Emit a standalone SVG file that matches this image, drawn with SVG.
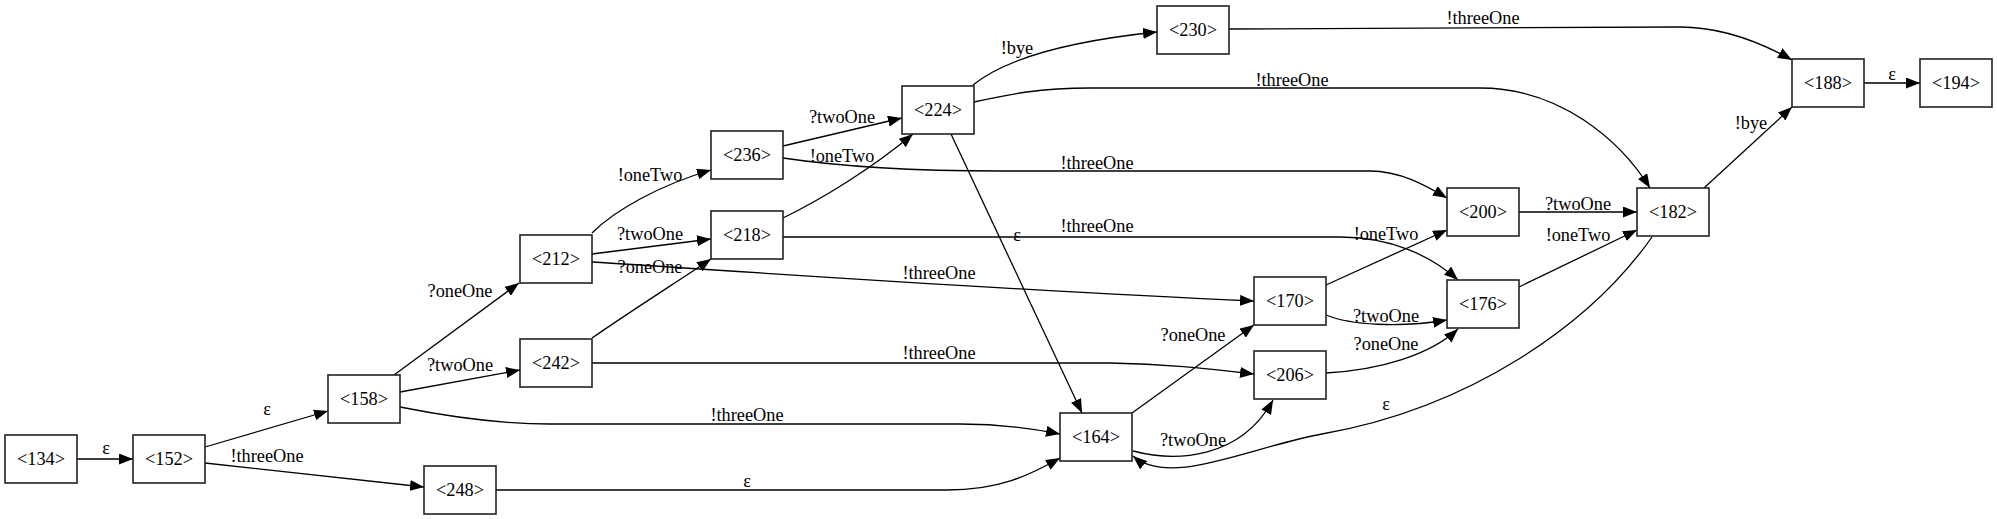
<svg xmlns="http://www.w3.org/2000/svg" width="1997" height="519" viewBox="0 0 1997 519">
<style>
.n rect{fill:#fff;stroke:#222;stroke-width:1.6}
.n text,.l{font-family:"Liberation Serif","Times New Roman",serif;font-size:18.3px;fill:#000;text-anchor:middle}
.e path{fill:none;stroke:#000;stroke-width:1.3;marker-end:url(#ah)}
</style>
<defs>
<marker id="ah" markerUnits="userSpaceOnUse" markerWidth="14" markerHeight="11" refX="14" refY="5.5" orient="auto">
<path d="M0,0 L14,5.5 L0,11 z" fill="#000"/>
</marker>
</defs>
<rect width="1997" height="519" fill="#fff"/>
<g id="connectors" class="e">
<path d="M77,459 L133,459"/>
<path d="M205,447 L328,411"/>
<path d="M205,463 L424,487"/>
<path d="M394,375 L519,283"/>
<path d="M400,392 L520,370"/>
<path d="M400,407 C450,417 500,424 550,424 L960,424 C1000,424 1030,428 1060,434"/>
<path d="M496,490 L947,490 C1000,490 1030,475 1060,458"/>
<path d="M592,233 C615,210 660,185 711,170"/>
<path d="M592,254 L711,239"/>
<path d="M592,262 C750,272 1000,290 1254,301"/>
<path d="M592,338 C640,305 680,280 711,259"/>
<path d="M592,363 L1110,363 C1170,364 1210,369 1254,374"/>
<path d="M783,218 C820,200 870,170 913,134"/>
<path d="M783,146 L902,118"/>
<path d="M783,158 C830,165 900,171 1000,171 L1370,171 C1400,171 1425,185 1447,198"/>
<path d="M783,237 L1340,237 C1390,237 1430,255 1458,280"/>
<path d="M973,85 C1010,55 1080,40 1157,32"/>
<path d="M974,102 C1010,94 1040,88 1090,88 L1480,88 C1560,88 1620,140 1650,188"/>
<path d="M951,134 L1082,413"/>
<path d="M1229,29 C1400,27 1550,27 1680,27 C1720,27 1760,42 1792,60"/>
<path d="M1326,285 L1447,230"/>
<path d="M1326,315 C1350,325 1400,328 1447,320"/>
<path d="M1326,373 C1380,370 1430,355 1458,329"/>
<path d="M1132,413 L1254,325"/>
<path d="M1133,451 C1175,462 1240,460 1273,400"/>
<path d="M1652,237 C1590,325 1470,408 1322,434 C1250,447 1170,488 1133,456"/>
<path d="M1519,212 L1637,212"/>
<path d="M1519,287 L1637,230"/>
<path d="M1704,188 L1792,107"/>
<path d="M1864,83 L1920,83"/>
<text class="l" x="106" y="454">ε</text>
<text class="l" x="267" y="415">ε</text>
<text class="l" x="267" y="462">!threeOne</text>
<text class="l" x="460" y="297">?oneOne</text>
<text class="l" x="460" y="371">?twoOne</text>
<text class="l" x="747" y="421">!threeOne</text>
<text class="l" x="747" y="487">ε</text>
<text class="l" x="650" y="181">!oneTwo</text>
<text class="l" x="650" y="240">?twoOne</text>
<text class="l" x="939" y="279">!threeOne</text>
<text class="l" x="650" y="273">?oneOne</text>
<text class="l" x="939" y="359">!threeOne</text>
<text class="l" x="842" y="162">!oneTwo</text>
<text class="l" x="842" y="123">?twoOne</text>
<text class="l" x="1097" y="169">!threeOne</text>
<text class="l" x="1097" y="232">!threeOne</text>
<text class="l" x="1017" y="241">ε</text>
<text class="l" x="1017" y="54">!bye</text>
<text class="l" x="1292" y="86">!threeOne</text>
<text class="l" x="1483" y="24">!threeOne</text>
<text class="l" x="1386" y="240">!oneTwo</text>
<text class="l" x="1386" y="322">?twoOne</text>
<text class="l" x="1386" y="350">?oneOne</text>
<text class="l" x="1193" y="341">?oneOne</text>
<text class="l" x="1193" y="446">?twoOne</text>
<text class="l" x="1386" y="410">ε</text>
<text class="l" x="1578" y="210">?twoOne</text>
<text class="l" x="1578" y="241">!oneTwo</text>
<text class="l" x="1751" y="129">!bye</text>
<text class="l" x="1892" y="80">ε</text>
</g>
<g id="n134" class="n"><rect x="5" y="435" width="72" height="48"/><text x="41" y="465">&lt;134&gt;</text></g>
<g id="n152" class="n"><rect x="133" y="435" width="72" height="48"/><text x="169" y="465">&lt;152&gt;</text></g>
<g id="n158" class="n"><rect x="328" y="375" width="72" height="48"/><text x="364" y="405">&lt;158&gt;</text></g>
<g id="n248" class="n"><rect x="424" y="466" width="72" height="48"/><text x="460" y="496">&lt;248&gt;</text></g>
<g id="n212" class="n"><rect x="520" y="235" width="72" height="48"/><text x="556" y="265">&lt;212&gt;</text></g>
<g id="n242" class="n"><rect x="520" y="339" width="72" height="48"/><text x="556" y="369">&lt;242&gt;</text></g>
<g id="n218" class="n"><rect x="711" y="211" width="72" height="48"/><text x="747" y="241">&lt;218&gt;</text></g>
<g id="n236" class="n"><rect x="711" y="131" width="72" height="48"/><text x="747" y="161">&lt;236&gt;</text></g>
<g id="n224" class="n"><rect x="902" y="86" width="72" height="48"/><text x="938" y="116">&lt;224&gt;</text></g>
<g id="n230" class="n"><rect x="1157" y="6" width="72" height="48"/><text x="1193" y="36">&lt;230&gt;</text></g>
<g id="n164" class="n"><rect x="1060" y="413" width="72" height="48"/><text x="1096" y="443">&lt;164&gt;</text></g>
<g id="n170" class="n"><rect x="1254" y="277" width="72" height="48"/><text x="1290" y="307">&lt;170&gt;</text></g>
<g id="n206" class="n"><rect x="1254" y="351" width="72" height="48"/><text x="1290" y="381">&lt;206&gt;</text></g>
<g id="n200" class="n"><rect x="1447" y="188" width="72" height="48"/><text x="1483" y="218">&lt;200&gt;</text></g>
<g id="n176" class="n"><rect x="1447" y="280" width="72" height="48"/><text x="1483" y="310">&lt;176&gt;</text></g>
<g id="n182" class="n"><rect x="1637" y="188" width="72" height="48"/><text x="1673" y="218">&lt;182&gt;</text></g>
<g id="n188" class="n"><rect x="1792" y="59" width="72" height="48"/><text x="1828" y="89">&lt;188&gt;</text></g>
<g id="n194" class="n"><rect x="1920" y="59" width="72" height="48"/><text x="1956" y="89">&lt;194&gt;</text></g>
</svg>
